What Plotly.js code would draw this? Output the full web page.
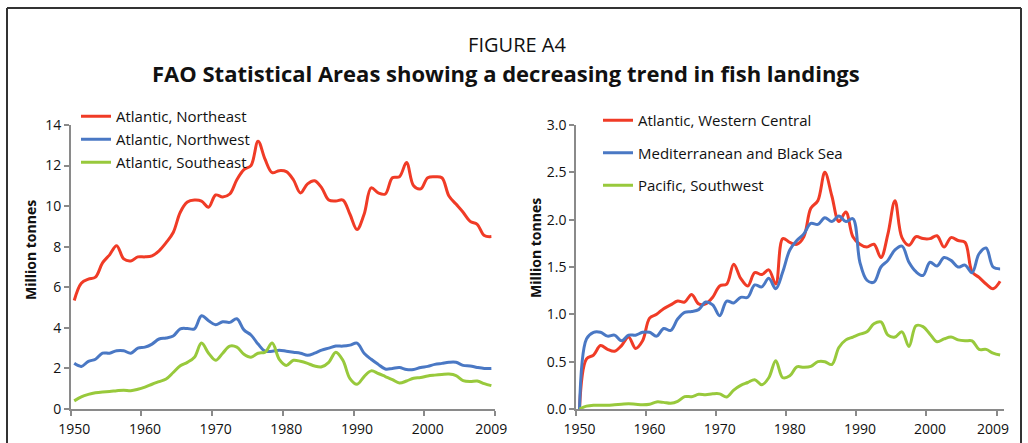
<!DOCTYPE html>
<html>
<head>
<meta charset="utf-8">
<script src="https://cdn.plot.ly/plotly-3.0.1.min.js"></script>
<style>
html,body{margin:0;padding:0;background:#ffffff;}
#chart{width:1028px;height:443px;}
</style>
</head>
<body>
<div id="chart"></div>
<script>
// ---------- categories ----------
const yearsLeft = [1950,1951,1952,1953,1954,1955,1956,1957,1958,1959,1960,1961,1962,1963,1964,1965,1966,1967,1968,1969,
  1970,1971,1972,1973,1974,1975,1976,1977,1978,1979,1980,1981,1982,1983,1984,1985,1986,1987,1988,1989,
  1990,1991,1992,1993,1994,1995,1996,1997,1998,1999,2000,2001,2002,2003,2004,2005,2006,2007,2008,2009];
const yearsRight = [1950,1951,1952,1953,1954,1955,1956,1957,1958,1959,1960,1961,1962,1963,1964,1965,1966,1967,1968,1969,
  1970,1971,1972,1973,1974,1975,1976,1977,1978,1979,1980,1981,1982,1983,1984,1985,1986,1987,1988,1989,
  1990,1991,1992,1993,1994,1995,1996,1997,1998,1999,2000,2001,2002,2003,2004,2005,2006,2007,2008,2009,2010];
const xTickLabels = ['1950','1960','1970','1980','1990','2000','2009'];

// ---------- left panel series (million tonnes) ----------
const atlanticNortheast = [5.35,6.2,6.4,6.5,7.2,7.6,8.05,7.4,7.3,7.5,7.5,7.55,7.8,8.2,8.7,9.7,10.2,10.3,10.25,9.95,
  10.55,10.45,10.6,11.3,11.8,12.0,13.2,12.3,11.65,11.75,11.7,11.3,10.65,11.1,11.25,10.9,10.3,10.25,10.3,9.6,
  8.85,9.6,10.9,10.65,10.6,11.4,11.45,12.15,11.0,10.85,11.4,11.45,11.4,10.5,10.1,9.7,9.25,9.1,8.55,8.5];
const atlanticNorthwest = [2.25,2.1,2.35,2.45,2.75,2.75,2.87,2.87,2.75,3.0,3.05,3.2,3.45,3.5,3.6,3.95,3.97,3.95,4.6,4.35,
  4.15,4.3,4.27,4.45,3.9,3.65,3.2,2.85,2.85,2.9,2.85,2.8,2.75,2.65,2.75,2.9,3.0,3.1,3.1,3.15,
  3.25,2.75,2.45,2.2,1.97,2.0,2.04,1.95,1.95,2.05,2.1,2.2,2.25,2.3,2.3,2.15,2.12,2.05,2.0,2.0];
const atlanticSoutheast = [0.4,0.6,0.72,0.8,0.84,0.86,0.9,0.93,0.9,0.97,1.08,1.22,1.35,1.48,1.8,2.13,2.3,2.55,3.25,2.75,
  2.4,2.75,3.1,3.05,2.7,2.55,2.75,2.8,3.25,2.45,2.15,2.4,2.35,2.25,2.12,2.08,2.3,2.8,2.4,1.5,
  1.22,1.6,1.88,1.75,1.6,1.45,1.28,1.38,1.52,1.55,1.63,1.67,1.7,1.72,1.65,1.4,1.35,1.38,1.25,1.15];

// ---------- right panel series (million tonnes) ----------
const atlanticWesternCentral = [0.0,0.53,0.57,0.67,0.63,0.61,0.67,0.76,0.64,0.72,0.96,1.0,1.06,1.1,1.14,1.13,1.21,1.11,1.11,1.18,
  1.3,1.32,1.53,1.38,1.3,1.44,1.42,1.47,1.32,1.8,1.76,1.74,1.82,2.12,2.2,2.5,2.25,1.98,2.08,1.82,
  1.74,1.71,1.74,1.6,1.85,2.2,1.81,1.73,1.82,1.8,1.8,1.83,1.71,1.81,1.78,1.76,1.45,1.39,1.32,1.27,1.35];
const mediterraneanBlackSea = [0.0,0.74,0.81,0.81,0.77,0.78,0.72,0.78,0.78,0.81,0.81,0.77,0.85,0.83,0.95,1.02,1.03,1.05,1.13,1.1,
  0.985,1.14,1.12,1.18,1.18,1.31,1.29,1.38,1.27,1.45,1.68,1.78,1.85,1.96,1.95,2.02,1.98,2.04,1.98,2.01,
  1.55,1.36,1.34,1.5,1.57,1.68,1.72,1.55,1.45,1.41,1.55,1.51,1.6,1.57,1.5,1.52,1.44,1.64,1.7,1.5,1.48];
const pacificSouthwest = [0.0,0.03,0.04,0.04,0.04,0.045,0.05,0.055,0.05,0.045,0.05,0.075,0.07,0.06,0.08,0.13,0.13,0.155,0.15,0.16,
  0.16,0.127,0.2,0.25,0.28,0.31,0.255,0.33,0.51,0.33,0.35,0.445,0.44,0.45,0.5,0.5,0.47,0.65,0.73,0.76,
  0.79,0.815,0.9,0.92,0.78,0.76,0.815,0.66,0.88,0.87,0.79,0.71,0.74,0.76,0.73,0.72,0.72,0.63,0.63,0.59,0.57];

// ---------- styling ----------
const W = 1028, H = 443;
const px = v => v / W;
const py = v => 1 - v / H;
const RED = '#f03b26', BLUE = '#4a78c4', GREEN = '#98c93c';
const AXIS = '#8a8a8a';
const FONT = 'Open Sans, Noto Sans, sans-serif';

function line(name, x, y, color, xa, ya, legend, group) {
  return {type: 'scatter', mode: 'lines', name: name, x: x, y: y,
    xaxis: xa, yaxis: ya, legend: legend, legendgroup: group,
    line: {color: color, width: 3, shape: 'spline', smoothing: 1},
    hoverinfo: 'x+y+name'};
}

const traces = [
  line('Atlantic, Northeast', yearsLeft, atlanticNortheast, RED, 'x', 'y', 'legend', 'a'),
  line('Atlantic, Northwest', yearsLeft, atlanticNorthwest, BLUE, 'x', 'y', 'legend', 'b'),
  line('Atlantic, Southeast', yearsLeft, atlanticSoutheast, GREEN, 'x', 'y', 'legend', 'c'),
  line('Atlantic, Western Central', yearsRight, atlanticWesternCentral, RED, 'x2', 'y2', 'legend2', 'd'),
  line('Mediterranean and Black Sea', yearsRight, mediterraneanBlackSea, BLUE, 'x2', 'y2', 'legend2', 'e'),
  line('Pacific, Southwest', yearsRight, pacificSouthwest, GREEN, 'x2', 'y2', 'legend2', 'f')
];

const labelVals = xTickLabels.map(Number);
const boundaryVals = xTickLabels.map((t, i) => i < xTickLabels.length - 1 ? Number(t) - 0.5 : Number(t) + 0.5);

function xAxis(domain, range, anchor) {
  return {
    domain: domain, range: range, anchor: anchor, type: 'linear',
    showline: true, linecolor: AXIS, linewidth: 1.5, mirror: false,
    showgrid: false, zeroline: false,
    tickmode: 'array', tickvals: labelVals, ticktext: xTickLabels,
    ticks: '', ticklabelstandoff: 6,
    minor: {tickmode: 'array', tickvals: boundaryVals, ticks: 'outside', ticklen: 5, tickwidth: 1.5, tickcolor: AXIS, showgrid: false},
    tickfont: {family: FONT, size: 14, color: '#111'},
    fixedrange: true
  };
}
function yAxis(domain, range, dtick, fmt, anchor) {
  return {
    domain: domain, range: range, anchor: anchor,
    showline: true, linecolor: AXIS, linewidth: 1.5,
    showgrid: false, zeroline: false,
    tickmode: 'linear', tick0: 0, dtick: dtick, tickformat: fmt,
    ticks: 'outside', ticklen: 5, tickwidth: 1.5, tickcolor: AXIS,
    tickfont: {family: FONT, size: 14, color: '#111'},
    fixedrange: true
  };
}

const yDom = [py(409), py(125)];

const layout = {
  width: W, height: H,
  margin: {l: 0, r: 0, t: 0, b: 0},
  paper_bgcolor: '#ffffff', plot_bgcolor: 'rgba(0,0,0,0)',
  font: {family: FONT, color: '#111'},
  showlegend: true,
  title: {
    text: 'FIGURE A4',
    font: {family: FONT, size: 20, color: '#111'},
    xref: 'paper', yref: 'paper', x: px(517), y: py(45), xanchor: 'center', yanchor: 'middle'
  },
  xaxis: xAxis([px(70.7), px(494.9)], [1949.5, 2009.5], 'y'),
  yaxis: yAxis(yDom, [0, 14], 2, 'd', 'x'),
  xaxis2: xAxis([px(576), px(1003.6)], [1949.5, 2010.5], 'y2'),
  yaxis2: yAxis(yDom, [0, 3], 0.5, '.1f', 'x2'),
  legend: {
    x: px(76), y: py(100), xanchor: 'left', yanchor: 'top',
    bgcolor: 'rgba(0,0,0,0)', borderwidth: 0,
    font: {family: FONT, size: 15, color: '#111'},
    tracegroupgap: 0.5, itemwidth: 30, itemclick: false, itemdoubleclick: false
  },
  legend2: {
    x: px(598), y: py(104), xanchor: 'left', yanchor: 'top',
    bgcolor: 'rgba(0,0,0,0)', borderwidth: 0,
    font: {family: FONT, size: 15, color: '#111'},
    tracegroupgap: 10, itemwidth: 30, itemclick: false, itemdoubleclick: false
  },
  annotations: [
    {text: '<b>FAO Statistical Areas showing a decreasing trend in fish landings</b>',
     xref: 'paper', yref: 'paper', x: px(506), y: py(73), xanchor: 'center', yanchor: 'middle',
     showarrow: false, font: {family: FONT, size: 22, color: '#111'}},
    {text: '<b>Million tonnes</b>', textangle: -90,
     xref: 'paper', yref: 'paper', x: px(30), y: py(250), xanchor: 'center', yanchor: 'middle',
     showarrow: false, font: {family: FONT, size: 14, color: '#111'}},
    {text: '<b>Million tonnes</b>', textangle: -90,
     xref: 'paper', yref: 'paper', x: px(535), y: py(248), xanchor: 'center', yanchor: 'middle',
     showarrow: false, font: {family: FONT, size: 14, color: '#111'}}
  ],
  shapes: [
    {type: 'line', xref: 'paper', yref: 'paper', x0: px(7), x1: px(1021), y0: py(8), y1: py(8), line: {color: '#333', width: 2}},
    {type: 'line', xref: 'paper', yref: 'paper', x0: px(7), x1: px(7), y0: py(8), y1: py(443), line: {color: '#333', width: 2}},
    {type: 'line', xref: 'paper', yref: 'paper', x0: px(1021), x1: px(1021), y0: py(8), y1: py(443), line: {color: '#333', width: 2}}
  ]
};

Plotly.newPlot('chart', traces, layout, {displayModeBar: false, responsive: false, staticPlot: false});
</script>
</body>
</html>
